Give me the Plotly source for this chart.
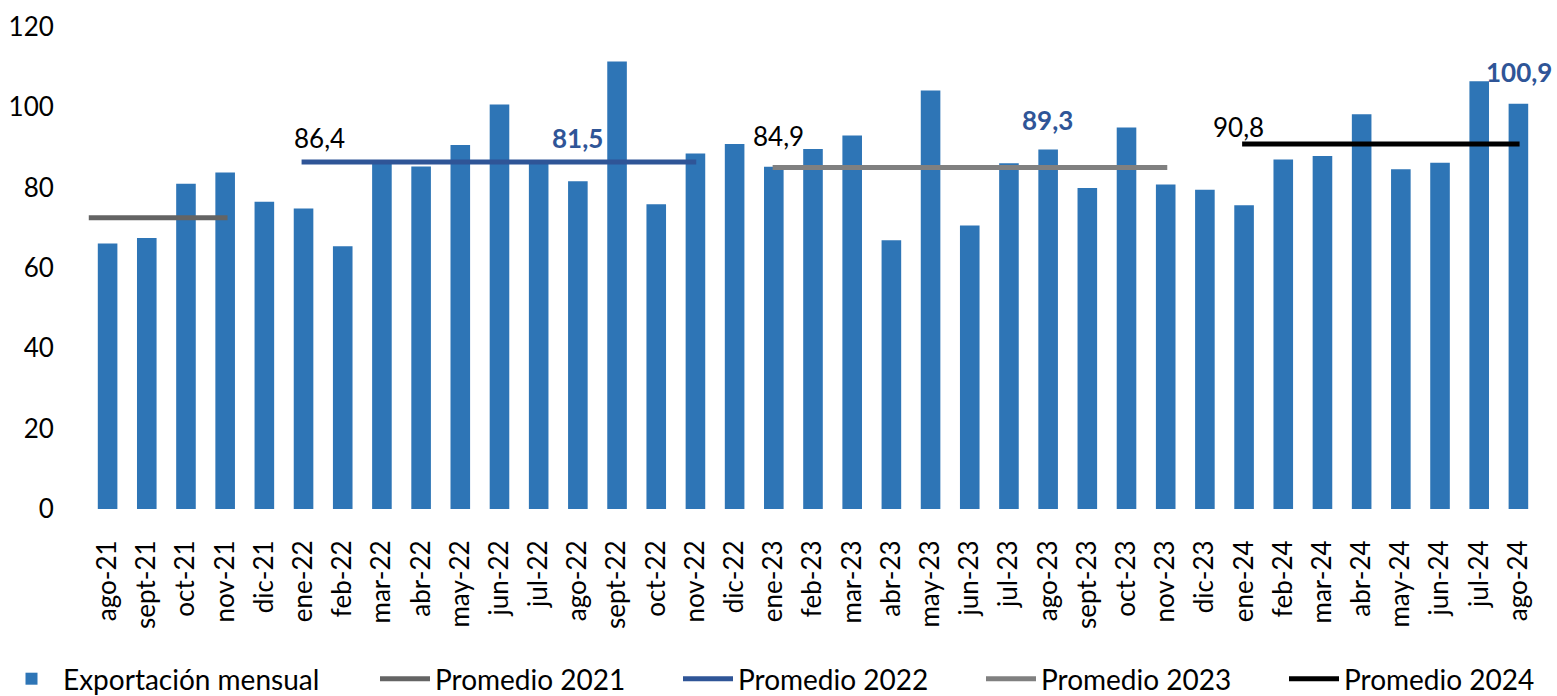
import plotly.graph_objects as go

categories = ["ago-21", "sept-21", "oct-21", "nov-21", "dic-21",
              "ene-22", "feb-22", "mar-22", "abr-22", "may-22", "jun-22", "jul-22", "ago-22", "sept-22", "oct-22", "nov-22", "dic-22",
              "ene-23", "feb-23", "mar-23", "abr-23", "may-23", "jun-23", "jul-23", "ago-23", "sept-23", "oct-23", "nov-23", "dic-23",
              "ene-24", "feb-24", "mar-24", "abr-24", "may-24", "jun-24", "jul-24", "ago-24"]
exportacion = [66.1, 67.5, 81.0, 83.8, 76.5,
               74.8, 65.4, 86.7, 85.3, 90.6, 100.7, 86.2, 81.6, 111.4, 75.9, 88.5, 90.9,
               85.2, 89.6, 93.0, 66.9, 104.2, 70.6, 86.1, 89.5, 79.9, 95.0, 80.8, 79.5,
               75.6, 87.0, 87.9, 98.3, 84.6, 86.2, 106.5, 100.9]

prom_names = ["Promedio 2021", "Promedio 2022", "Promedio 2023", "Promedio 2024"]
prom_values = [72.5, 86.4, 85.0, 90.9]
prom_start = [-0.48, 4.95, 16.97, 28.95]
prom_end = [3.06, 15.02, 27.04, 36.03]
prom_colors = ["#646464", "#2F5597", "#808080", "#000000"]

label_texts = ["86,4", "81,5", "84,9", "89,3", "90,8", "100,9"]
label_x = [5.41, 11.99, 17.12, 23.99, 28.86, 36.02]
label_y = [92.3, 92.3, 92.8, 96.8, 95.0, 108.7]
label_colors = ["#000000", "#2F5597", "#000000", "#2F5597", "#000000", "#2F5597"]
label_bold = [False, True, False, True, False, True]

yticks = [0, 20, 40, 60, 80, 100, 120]

FONT = "Lato"
x_idx = list(range(len(categories)))

fig = go.Figure()
fig.add_trace(go.Bar(x=x_idx, y=exportacion, name="Exportación mensual",
                     marker=dict(color="#2E75B6", line=dict(width=0)), width=0.5,
                     legend="legend"))
for n, v, s, e, c in zip(prom_names, prom_values, prom_start, prom_end, prom_colors):
    fig.add_trace(go.Scatter(x=[s, e], y=[v, v], mode="lines", name=n,
                             line=dict(color=c, width=5), legend="legend2"))

for t, x, y, c, b in zip(label_texts, label_x, label_y, label_colors, label_bold):
    fig.add_annotation(x=x, y=y, text=t, showarrow=False, xref="x", yref="y",
                       font=dict(family=FONT, size=26, color=c, weight="bold" if b else "normal"))

legend_font = dict(family=FONT, size=28, color="#000000")
fig.update_layout(
    width=1557, height=696,
    margin=dict(l=88, r=19, t=27, b=187),
    paper_bgcolor="white", plot_bgcolor="white",
    font=dict(family=FONT, size=26, color="#000000"),
    showlegend=True,
    legend=dict(orientation="h", xref="container", yref="container",
                x=0.0, xanchor="left", y=17 / 696, yanchor="middle",
                font=legend_font, itemwidth=53),
    legend2=dict(orientation="h", xref="container", yref="container",
                 x=375 / 1557, xanchor="left", y=17 / 696, yanchor="middle",
                 font=legend_font, itemwidth=50,
                 entrywidth=238, entrywidthmode="pixels"),
)
fig.update_xaxes(range=[-0.5, 36.5], tickmode="array", tickvals=x_idx, ticktext=categories,
                 tickangle=-90, showgrid=False, zeroline=False, showline=False, automargin=False,
                 ticks="outside", ticklen=20, tickcolor="rgba(0,0,0,0)",
                 tickfont=dict(family=FONT, size=26, color="#000000"))
fig.update_yaxes(range=[0, 120], tickmode="array", tickvals=yticks, ticktext=[str(v) for v in yticks],
                 showgrid=False, zeroline=False, showline=False, automargin=False,
                 ticks="outside", ticklen=28, tickcolor="rgba(0,0,0,0)",
                 tickfont=dict(family=FONT, size=26, color="#000000"))

fig.write_html("out.html", config={"displayModeBar": False},
               post_script="document.body.style.margin='0';")
